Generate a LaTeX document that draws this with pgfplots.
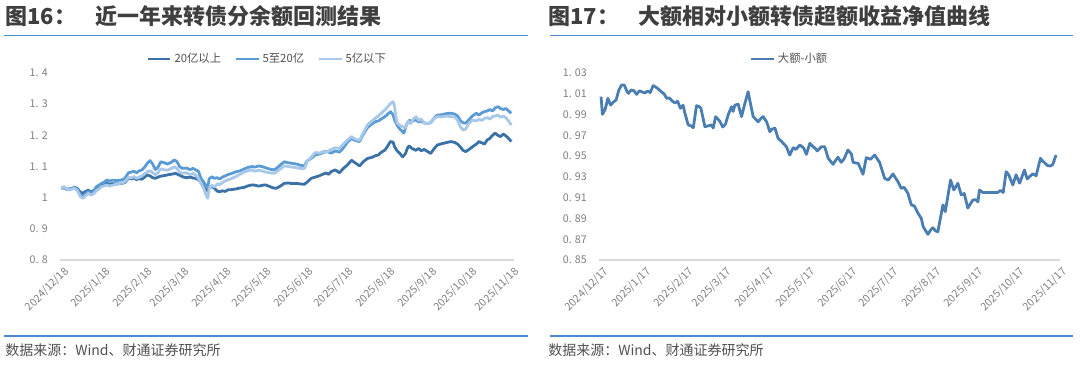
\documentclass[border=0pt]{standalone}
\usepackage{fontspec}
\setmainfont{Noto Sans CJK SC}
\usepackage{pgfplots}
\pgfplotsset{compat=1.18}
\definecolor{cdark}{HTML}{3A72A8}
\definecolor{cmid}{HTML}{5B9BD5}
\definecolor{clight}{HTML}{A8C8EA}
\definecolor{cright}{HTML}{4A7EB3}
\definecolor{cline}{HTML}{4A8AD0}
\definecolor{ctitle}{HTML}{3F3F3F}
\definecolor{ctick}{HTML}{7F7F7F}
\definecolor{cleg}{HTML}{505050}
\definecolor{cgrid}{HTML}{D9D9D9}
\pgfplotsset{
  myaxis/.style={
    scale only axis,
    height=140.25pt,
    axis line style={draw=none},
    tick style={draw=none},
    major tick length=0pt,
    tick label style={font=\fontsize{8pt}{9pt}\selectfont, text=ctick, inner sep=0pt},
    /pgf/number format/assume math mode=true,
    yticklabel style={anchor=east, xshift=-9pt},
    xticklabel style={rotate=45, anchor=north east, yshift=-4pt, xshift=-2pt},
    legend style={draw=none, fill=none, font=\fontsize{8.5pt}{10pt}\selectfont, text=cleg,
      /tikz/every even column/.append style={column sep=8pt}},
    legend columns=-1,
    legend image code/.code={\draw[#1] (0pt,0pt) -- (17pt,0pt);},
    every axis plot/.append style={line width=2.1pt, line join=round, mark=none},
  }
}
\begin{document}
\begin{tikzpicture}
\useasboundingbox (0,0) rectangle (810pt,-274.5pt);
% titles and rules
\node[anchor=base west, inner sep=0pt, text=ctitle, font=\fontsize{16.5pt}{18pt}\selectfont\bfseries] at (3.75pt,-18.75pt) {图16：\hspace{0.9em}近一年来转债分余额回测结果};
\node[anchor=base west, inner sep=0pt, text=ctitle, font=\fontsize{16.5pt}{18pt}\selectfont\bfseries] at (411pt,-18.75pt) {图17：\hspace{0.9em}大额相对小额转债超额收益净值曲线};
\draw[cline, line width=1.1pt] (3pt,-26.6pt) -- (396pt,-26.6pt);
\draw[cline, line width=1.1pt] (412.5pt,-26.6pt) -- (804.75pt,-26.6pt);
\draw[cline, line width=1pt] (3pt,-252pt) -- (396pt,-252pt);
\draw[cline, line width=1pt] (412.5pt,-252pt) -- (804.75pt,-252pt);
\node[anchor=west, inner sep=0pt, text=cleg, font=\fontsize{10.5pt}{12pt}\selectfont] at (3.75pt,-262.5pt) {数据来源：Wind、财通证券研究所};
\node[anchor=west, inner sep=0pt, text=cleg, font=\fontsize{10.5pt}{12pt}\selectfont] at (411pt,-262.5pt) {数据来源：Wind、财通证券研究所};

\begin{axis}[myaxis,
  at={(45pt,-195pt)}, anchor=south west,
  width=340.5pt,
  xmin=-1, xmax=337, ymin=0.8, ymax=1.4,
  ytick={0.8,0.9,1.0,1.1,1.2,1.3,1.4},
  yticklabels={0. 8,0. 9,1,1. 1,1. 2,1. 3,1. 4},
  xtick={0,31,62,90,121,151,182,212,243,274,304,335},
  xticklabels={2024/12/18,2025/1/18,2025/2/18,2025/3/18,2025/4/18,2025/5/18,2025/6/18,2025/7/18,2025/8/18,2025/9/18,2025/10/18,2025/11/18},
  extra y ticks={0.8}, extra y tick labels={},
  extra y tick style={ymajorgrids=true, major grid style={draw=cgrid, line width=0.9pt}},
  legend style={at={(0.457,1.075)}, anchor=center},
]
\addplot[cdark] table {
0 1.030
2 1.032
4 1.027
6 1.028
8 1.030
10 1.033
12 1.029
14 1.018
16 1.014
18 1.020
20 1.024
22 1.019
24 1.022
26 1.031
28 1.035
30 1.038
32 1.041
34 1.046
36 1.043
38 1.045
41 1.044
44 1.045
47 1.048
50 1.062
52 1.060
54 1.063
56 1.058
58 1.061
60 1.059
62 1.066
64 1.073
66 1.070
68 1.064
70 1.062
72 1.066
74 1.069
77 1.071
80 1.074
83 1.076
85 1.078
87 1.074
89 1.070
91 1.066
93 1.064
96 1.066
98 1.063
100 1.062
102 1.058
104 1.048
106 1.041
108 1.026
109 1.022
110 1.031
112 1.036
114 1.030
116 1.021
118 1.019
120 1.022
122 1.020
124 1.025
127 1.026
130 1.028
133 1.031
136 1.033
139 1.038
142 1.041
144 1.040
147 1.037
150 1.040
152 1.041
155 1.036
158 1.031
160 1.030
163 1.037
166 1.046
169 1.047
172 1.045
175 1.046
178 1.044
181 1.043
183 1.050
186 1.062
189 1.066
192 1.070
195 1.076
197 1.079
199 1.075
201 1.084
204 1.089
207 1.080
210 1.094
213 1.105
216 1.120
218 1.114
220 1.108
222 1.102
225 1.116
228 1.126
231 1.129
234 1.135
236 1.137
238 1.145
241 1.153
243 1.166
245 1.180
247 1.178
248 1.164
250 1.150
252 1.142
254 1.131
256 1.140
258 1.162
259 1.166
261 1.158
264 1.152
266 1.158
268 1.150
270 1.155
273 1.147
275 1.142
278 1.160
280 1.169
283 1.173
287 1.177
290 1.180
293 1.177
295 1.172
297 1.163
299 1.152
301 1.148
303 1.153
306 1.163
309 1.172
311 1.180
313 1.176
315 1.172
317 1.185
319 1.190
321 1.200
323 1.207
325 1.200
327 1.196
329 1.204
331 1.198
333 1.190
335 1.180
};
\addlegendentry{20亿以上}
\addplot[cmid] table {
0 1.030
2 1.033
4 1.027
6 1.026
8 1.030
10 1.032
12 1.026
14 1.010
16 1.005
18 1.012
20 1.020
22 1.015
24 1.018
26 1.035
28 1.040
30 1.046
32 1.050
34 1.057
36 1.053
38 1.056
41 1.055
44 1.056
47 1.060
50 1.080
52 1.082
54 1.085
56 1.080
58 1.086
60 1.089
62 1.098
64 1.110
66 1.119
68 1.108
70 1.090
72 1.098
74 1.115
76 1.113
79 1.108
82 1.114
84 1.121
86 1.116
88 1.100
90 1.094
93 1.095
96 1.090
98 1.094
100 1.089
102 1.085
104 1.062
106 1.050
108 1.036
109 1.032
110 1.060
112 1.067
114 1.062
116 1.064
118 1.060
120 1.066
122 1.070
124 1.074
127 1.078
130 1.083
133 1.086
136 1.092
139 1.097
142 1.100
144 1.098
147 1.102
150 1.099
152 1.096
155 1.092
158 1.089
160 1.093
163 1.105
166 1.115
169 1.112
172 1.110
175 1.108
178 1.104
181 1.102
183 1.118
186 1.126
189 1.137
192 1.140
195 1.145
197 1.148
199 1.146
201 1.143
204 1.150
207 1.146
210 1.160
213 1.178
216 1.190
218 1.185
220 1.182
222 1.180
225 1.205
228 1.225
231 1.236
234 1.244
236 1.246
238 1.252
241 1.260
243 1.268
245 1.276
247 1.266
248 1.250
250 1.232
252 1.220
254 1.212
255 1.207
257 1.235
259 1.248
261 1.245
264 1.250
266 1.243
268 1.246
270 1.240
273 1.238
275 1.241
278 1.258
280 1.265
283 1.266
287 1.270
290 1.271
293 1.268
295 1.262
297 1.248
299 1.240
301 1.239
303 1.248
306 1.262
309 1.271
311 1.265
313 1.272
315 1.276
317 1.278
319 1.283
321 1.278
323 1.288
325 1.292
327 1.286
329 1.283
331 1.286
333 1.278
335 1.271
};
\addlegendentry{5至20亿}
\addplot[clight] table {
0 1.030
2 1.036
4 1.028
6 1.024
8 1.028
10 1.030
12 1.022
14 1.004
16 0.998
18 1.006
20 1.014
22 1.008
24 1.012
26 1.022
28 1.028
30 1.035
32 1.038
34 1.041
36 1.037
38 1.040
41 1.043
44 1.046
47 1.050
50 1.065
52 1.063
54 1.068
56 1.062
58 1.066
60 1.070
62 1.077
64 1.083
66 1.086
68 1.080
70 1.074
72 1.080
74 1.092
76 1.090
79 1.088
82 1.094
84 1.099
86 1.094
88 1.082
90 1.078
93 1.080
96 1.074
98 1.078
100 1.072
102 1.062
104 1.046
106 1.030
108 1.005
109 0.998
110 1.030
112 1.040
114 1.034
116 1.044
118 1.042
120 1.048
122 1.054
124 1.057
127 1.062
130 1.068
133 1.075
136 1.082
139 1.086
142 1.089
144 1.085
147 1.088
150 1.085
152 1.082
155 1.080
158 1.078
160 1.082
163 1.092
166 1.102
169 1.100
172 1.098
175 1.096
178 1.094
181 1.094
183 1.115
186 1.130
189 1.145
192 1.143
195 1.148
197 1.146
199 1.150
201 1.155
204 1.160
207 1.158
210 1.172
213 1.185
216 1.196
218 1.190
220 1.186
222 1.184
225 1.210
228 1.234
231 1.245
234 1.256
236 1.262
238 1.270
241 1.282
243 1.292
245 1.302
247 1.308
248 1.295
249 1.262
250 1.239
252 1.232
254 1.228
256 1.224
258 1.245
260 1.238
262 1.252
264 1.260
266 1.248
268 1.252
270 1.240
273 1.238
275 1.242
278 1.255
280 1.260
283 1.259
287 1.262
290 1.260
293 1.258
295 1.248
297 1.228
299 1.217
301 1.220
303 1.236
306 1.249
309 1.246
311 1.252
313 1.248
315 1.254
317 1.257
319 1.252
321 1.260
323 1.262
325 1.265
327 1.258
329 1.262
331 1.256
333 1.246
335 1.233
};
\addlegendentry{5亿以下}
\end{axis}

\begin{axis}[myaxis,
  at={(449.25pt,-195pt)}, anchor=south west,
  width=345.75pt,
  xmin=-1.5, xmax=335.5, ymin=0.85, ymax=1.03,
  ytick={0.85,0.87,0.89,0.91,0.93,0.95,0.97,0.99,1.01,1.03},
  yticklabels={0. 85,0. 87,0. 89,0. 91,0. 93,0. 95,0. 97,0. 99,1. 01,1. 03},
  xtick={0,31,62,90,121,151,182,212,243,274,304,335},
  xticklabels={2024/12/17,2025/1/17,2025/2/17,2025/3/17,2025/4/17,2025/5/17,2025/6/17,2025/7/17,2025/8/17,2025/9/17,2025/10/17,2025/11/17},
  extra y ticks={0.85}, extra y tick labels={},
  extra y tick style={ymajorgrids=true, major grid style={draw=cgrid, line width=0.9pt}},
  legend style={at={(0.414,1.075)}, anchor=center},
]
\addplot[cright] table {
0 1.0072
1 0.9902
3 0.9950
5 1.0056
7 0.9992
9 1.0020
11 1.0040
13 1.0136
15 1.0184
17 1.0184
19 1.0120
20 1.0104
22 1.0136
24 1.0130
26 1.0094
28 1.0128
30 1.0118
32 1.0108
34 1.0126
36 1.0112
38 1.0178
40 1.0165
42 1.0145
44 1.0120
46 1.0100
48 1.0056
50 1.0060
52 1.0030
54 1.0012
56 1.0028
58 0.9960
60 0.9990
61 0.9927
62 0.9880
63.7 0.9800
66 0.9790
67.4 0.9773
69.8 0.9985
72 0.9975
73 0.9960
75.9 0.9783
78 0.9790
80.8 0.9800
82 0.9770
83.7 0.9879
86.6 0.9840
89 0.9780
91 0.9810
93 0.9900
95.4 0.9976
96.5 0.9930
97.8 0.9990
100.2 1.0000
102.7 0.9880
105 1.0000
107.5 1.0120
109 1.0020
111.2 0.9880
114.9 0.9830
117 0.9865
118.5 0.9880
121 0.9830
123.4 0.9735
125 0.9760
127.1 0.9770
129.4 0.9671
132 0.9640
135.5 0.9590
137.9 0.9510
140.4 0.9580
142.5 0.9565
145.3 0.9607
148 0.9580
150.1 0.9517
152.6 0.9623
155 0.9590
156.2 0.9580
158 0.9550
161.1 0.9590
163.5 0.9590
166 0.9480
169.6 0.9421
171 0.9450
173.2 0.9490
175.5 0.9440
177.5 0.9470
180.5 0.9559
183 0.9520
184.2 0.9440
188 0.9430
191.5 0.9325
193.9 0.9485
197 0.9470
200 0.9510
203.6 0.9440
207.3 0.9286
210 0.9270
213.4 0.9328
217 0.9254
219.5 0.9190
221.5 0.9200
224.3 0.9142
226.8 0.9030
229 0.9020
231.7 0.8950
234.1 0.8900
235.5 0.8820
238.9 0.8747
241 0.8790
242.6 0.8810
244.5 0.8780
246.2 0.8772
249.9 0.9030
251.6 0.8965
255.5 0.9270
257.9 0.9174
260.8 0.9238
263.3 0.9126
265.5 0.9140
268.1 0.9000
271.8 0.9078
274 0.9080
275.5 0.9060
276.6 0.9174
279.1 0.9150
285 0.9150
290 0.9150
292 0.9170
294 0.9150
296.1 0.9350
298 0.9320
301 0.9222
303.4 0.9320
306 0.9240
309.5 0.9366
311.5 0.9280
313 0.9300
315.7 0.9330
318 0.9310
321.2 0.9479
323 0.9450
326.5 0.9408
328.5 0.9405
330.2 0.9420
331.5 0.9470
332.6 0.9510
};
\addlegendentry{大额-小额}
\end{axis}
\end{tikzpicture}
\end{document}
